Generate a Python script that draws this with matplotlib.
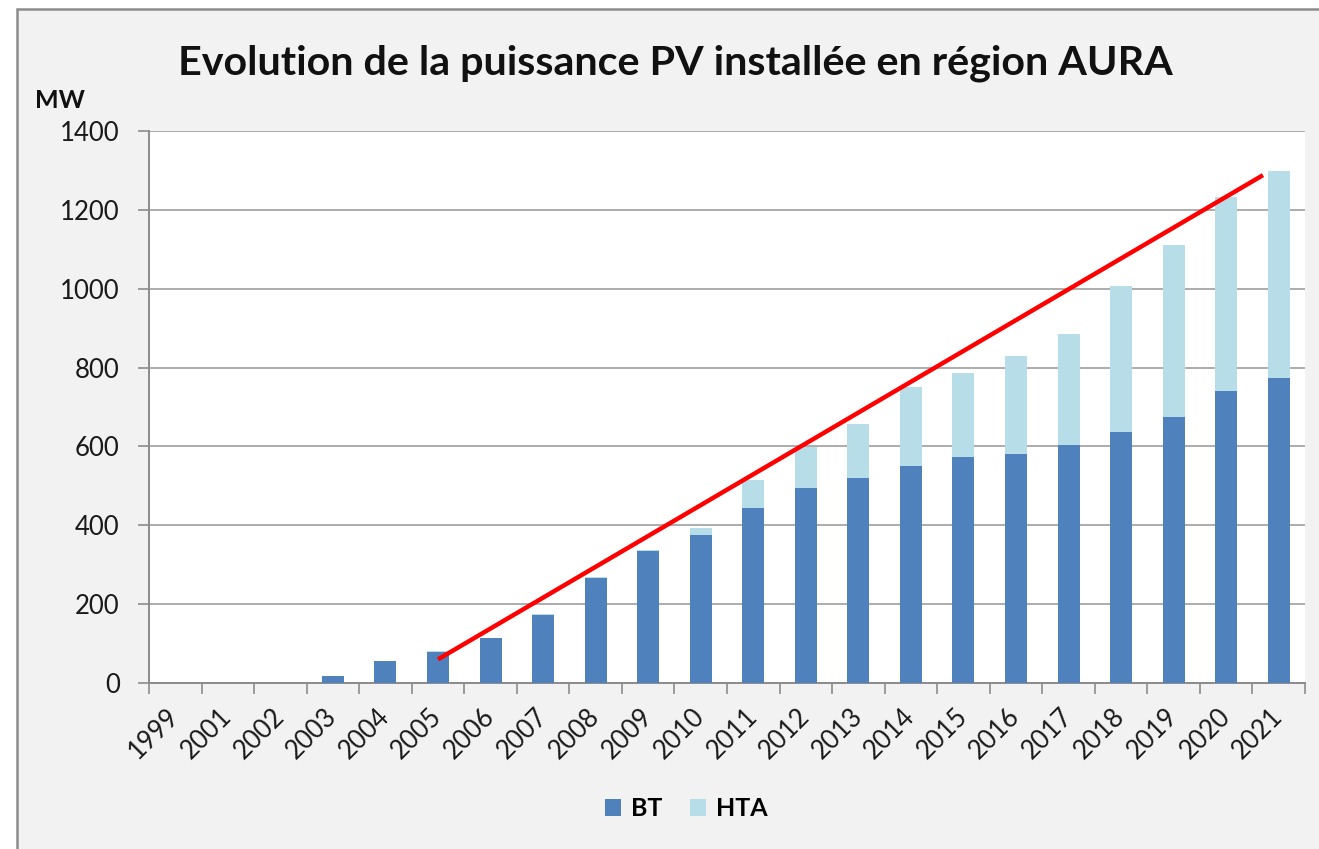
import matplotlib.pyplot as plt
import matplotlib.patches as mpatches
import numpy as np

# -------------------------- données --------------------------
years = ['1999', '2001', '2002', '2003', '2004', '2005', '2006', '2007', '2008',
         '2009', '2010', '2011', '2012', '2013', '2014', '2015', '2016', '2017',
         '2018', '2019', '2020', '2021']
bt = [0, 0, 0, 18, 57, 79, 113, 173, 267, 334, 375, 443, 495, 521, 550, 573,
      581, 604, 636, 675, 741, 773]
hta = [0, 0, 0, 0, 0, 1, 1, 1, 2, 3, 17, 71, 103, 137, 201, 214, 248, 280,
       371, 437, 491, 526]
y_ticks = [0, 200, 400, 600, 800, 1000, 1200, 1400]

# droite de tendance tracée à la main (position de catégorie, MW)
trend_x = [5.0, 20.7]
trend_y = [60, 1288]

col_bt = '#4f81bd'
col_hta = '#b7dde8'
font = ['Lato', 'DejaVu Sans']
plt.rcParams['font.family'] = font

# -------------------------- figure --------------------------
fig = plt.figure(figsize=(13.19, 8.49), dpi=100, facecolor='white')

# cadre gris du graphique
W, H = 1319, 849
frame = mpatches.Rectangle((17 / W, -0.1), 1.1, (849 - 9) / H + 0.1,
                           transform=fig.transFigure, facecolor='#f2f2f2',
                           edgecolor='#8c8c8c', linewidth=1.8, zorder=-10)
fig.patches.append(frame)

ax = fig.add_axes([149 / W, 1 - 683 / H, (1305 - 149) / W, (683 - 131) / H])
ax.set_facecolor('white')

x = np.arange(len(years))
ax.bar(x, bt, width=0.42, color=col_bt, label='BT', zorder=3)
ax.bar(x, hta, width=0.42, bottom=bt, color=col_hta, label='HTA', zorder=3)

ax.plot(trend_x, trend_y, color='#ff0000', linewidth=3.2,
        solid_capstyle='butt', zorder=4)

# -------------------------- axes --------------------------
ax.set_xlim(-0.5, len(years) - 0.5)
ax.set_ylim(0, 1400)
ax.set_yticks(y_ticks)
ax.set_yticklabels([str(v) for v in y_ticks])
ax.grid(axis='y', color='#a6a6a6', linewidth=1.3, zorder=1)

ax.set_xticks(x)
ax.set_xticklabels(years, rotation=45, ha='right', va='center',
                   rotation_mode='anchor')
ax.set_xticks(np.arange(-0.5, len(years), 1.0), minor=True)
ax.tick_params(axis='x', which='major', length=0, pad=21, labelsize=18.5,
               labelcolor='#1a1a1a')
ax.tick_params(axis='x', which='minor', length=8, width=1.2, color='#8c8c8c',
               direction='out')
ax.tick_params(axis='y', length=8, width=1.2, color='#8c8c8c', pad=13,
               labelsize=18.5, labelcolor='#1a1a1a')

for s in ['top', 'right']:
    ax.spines[s].set_visible(False)
for s in ['left', 'bottom']:
    ax.spines[s].set_color('#8c8c8c')
    ax.spines[s].set_linewidth(1.4)

# -------------------------- textes --------------------------
fig.text(675 / W, 1 - 63 / H, 'Evolution de la puissance PV installée en région AURA',
         ha='center', va='center', fontsize=29.7, fontweight='bold', color='#111111')
fig.text(35 / W, 1 - 101 / H, 'MW', ha='left', va='center', fontsize=18,
         fontweight='bold', color='#111111')

fig.legend(loc='center', bbox_to_anchor=(686 / W, 1 - 809 / H), ncol=2,
           frameon=False, prop={'weight': 'bold', 'size': 18},
           handlelength=0.65, handleheight=0.65, handletextpad=0.4,
           columnspacing=1.1)

fig.savefig('out.png', dpi=100, facecolor='white')
